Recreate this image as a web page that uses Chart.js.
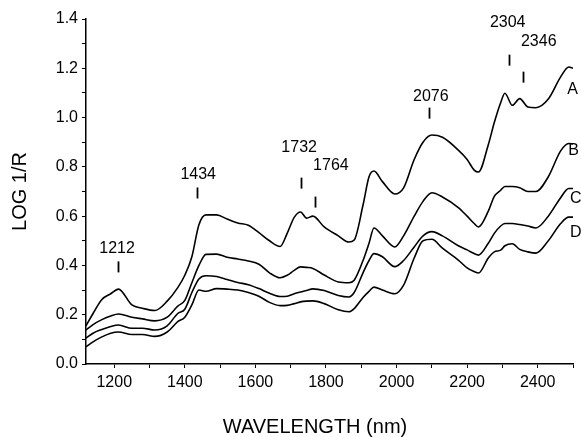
<!DOCTYPE html>
<html>
<head>
<meta charset="utf-8">
<script src="https://cdn.jsdelivr.net/npm/chart.js@4.4.1/dist/chart.umd.min.js"></script>
<style>
    html, body { margin: 0; padding: 0; background: #fff; }
    #spectraChart { display: block; }
</style>
</head>
<body>
<canvas id="spectraChart" width="581" height="437"></canvas>
<script>

const wavelengths = [
    1120, 1140, 1165, 1190, 1212, 1250, 1280, 1315, 1350, 1380,
    1400, 1420, 1440, 1460, 1490, 1520, 1550, 1580, 1610, 1640,
    1670, 1690, 1710, 1728, 1745, 1763, 1795, 1835, 1865, 1880,
    1905, 1922, 1936, 1960, 1995, 2020, 2050, 2075, 2100, 2130,
    2175, 2200, 2220, 2232, 2260, 2277, 2295, 2307, 2328, 2349,
    2372, 2395, 2430, 2465, 2488, 2500
];

const spectrumA = [
    0.155, 0.205, 0.262, 0.285, 0.304, 0.240, 0.226, 0.217, 0.255, 0.310,
    0.360, 0.435, 0.565, 0.605, 0.605, 0.588, 0.572, 0.563, 0.533, 0.500,
    0.477, 0.530, 0.595, 0.617, 0.592, 0.600, 0.556, 0.520, 0.495, 0.503,
    0.645, 0.760, 0.783, 0.740, 0.690, 0.715, 0.830, 0.900, 0.929, 0.920,
    0.868, 0.830, 0.787, 0.779, 0.890, 0.980, 1.060, 1.099, 1.050, 1.077,
    1.043, 1.040, 1.075, 1.165, 1.205, 1.200
];

const spectrumB = [
    0.138, 0.160, 0.180, 0.195, 0.203, 0.190, 0.183, 0.175, 0.190, 0.235,
    0.258, 0.330, 0.400, 0.445, 0.446, 0.433, 0.426, 0.418, 0.405, 0.370,
    0.350, 0.360, 0.380, 0.394, 0.392, 0.388, 0.361, 0.333, 0.330, 0.340,
    0.420, 0.490, 0.552, 0.520, 0.475, 0.520, 0.600, 0.660, 0.695, 0.678,
    0.635, 0.600, 0.570, 0.556, 0.620, 0.680, 0.705, 0.720, 0.720, 0.715,
    0.700, 0.700, 0.760, 0.865, 0.895, 0.893
];

const spectrumC = [
    0.105, 0.125, 0.140, 0.152, 0.158, 0.145, 0.145, 0.138, 0.155, 0.205,
    0.222, 0.290, 0.345, 0.358, 0.355, 0.343, 0.331, 0.322, 0.306, 0.287,
    0.274, 0.275, 0.285, 0.292, 0.298, 0.305, 0.298, 0.278, 0.272, 0.290,
    0.370, 0.420, 0.448, 0.435, 0.395, 0.420, 0.475, 0.520, 0.537, 0.520,
    0.480, 0.463, 0.448, 0.442, 0.490, 0.530, 0.560, 0.570, 0.570, 0.566,
    0.560, 0.552, 0.600, 0.675, 0.712, 0.712
];

const spectrumD = [
    0.070, 0.090, 0.110, 0.125, 0.130, 0.120, 0.120, 0.112, 0.130, 0.172,
    0.190, 0.240, 0.300, 0.295, 0.306, 0.304, 0.300, 0.290, 0.275, 0.250,
    0.237, 0.238, 0.245, 0.252, 0.255, 0.256, 0.245, 0.220, 0.212, 0.225,
    0.270, 0.295, 0.312, 0.300, 0.285, 0.320, 0.430, 0.500, 0.506, 0.470,
    0.422, 0.390, 0.375, 0.369, 0.430, 0.455, 0.462, 0.480, 0.488, 0.465,
    0.455, 0.450, 0.500, 0.570, 0.596, 0.596
];

const seriesNames = ["A", "B", "C", "D"];

// peak labels: where the text sits and where its little marker sits (data units)
const peakLabels = ["1212", "1434", "1732", "1764", "2076", "2304", "2346"];
const peakTextNm = [1208, 1438, 1724, 1814, 2097, 2315, 2403];
const peakTextLevel = [0.47, 0.767, 0.88, 0.807, 1.087, 1.387, 1.31];
const peakMarkNm = [1211, 1435, 1729, 1769, 2092, 2318, 2357];
const peakMarkLevel = [0.394, 0.694, 0.734, 0.657, 1.018, 1.233, 1.164];

// where the A..D letters sit next to the curve ends
const letterNm = [2499, 2502, 2508, 2508];
const letterLevel = [1.112, 0.868, 0.673, 0.535];

const FONT = "'Liberation Sans', Arial, Helvetica, sans-serif";

Chart.defaults.font.family = FONT;
Chart.defaults.color = "#000";

const annotationPlugin = {

    id: "peakAnnotations",

    afterDatasetsDraw(chart) {

        const { ctx, scales: { x, y } } = chart;

        ctx.save();
        ctx.fillStyle = "#000";
        ctx.strokeStyle = "#000";
        ctx.font = "16px " + FONT;
        ctx.textAlign = "center";
        ctx.textBaseline = "middle";

        peakLabels.forEach((label, i) => {

            ctx.fillText(label, x.getPixelForValue(peakTextNm[i]), y.getPixelForValue(peakTextLevel[i]));

            const mx = Math.round(x.getPixelForValue(peakMarkNm[i])) + 0.5;
            const my = y.getPixelForValue(peakMarkLevel[i]);

            ctx.lineWidth = 1.8;
            ctx.beginPath();
            ctx.moveTo(mx, my - 5.5);
            ctx.lineTo(mx, my + 5.5);
            ctx.stroke();

        });

        seriesNames.forEach((name, i) => {
            ctx.fillText(name, x.getPixelForValue(letterNm[i]), y.getPixelForValue(letterLevel[i]));
        });

        // x axis title, sits a bit left of the plot centre in the original
        ctx.font = "20px " + FONT;
        ctx.fillText("WAVELENGTH (nm)", 315, 427);

        ctx.restore();

    }

};

document.addEventListener("DOMContentLoaded", () => {

    const ctx = document.getElementById("spectraChart");

    if (!ctx) return;

    const makeSet = (name, values) => ({
        label: name,
        data: values,
        borderColor: "#000",
        backgroundColor: "#000",
        borderWidth: 1.6,
        pointRadius: 0,
        fill: false,
        cubicInterpolationMode: "monotone"
    });

    new Chart(ctx, {

        type: "line",

        data: {

            labels: wavelengths,

            datasets: [
                makeSet("A", spectrumA),
                makeSet("B", spectrumB),
                makeSet("C", spectrumC),
                makeSet("D", spectrumD)
            ]

        },

        options: {

            responsive: false,

            animation: false,

            layout: {
                padding: { top: 19, right: 8, bottom: 0, left: 0 }
            },

            plugins: {
                legend: { display: false },
                tooltip: { enabled: false }
            },

            scales: {

                x: {
                    type: "linear",
                    min: 1120,
                    max: 2500,
                    afterFit: (scale) => { scale.height = 73; },
                    border: { color: "#000", width: 1.5 },
                    grid: {
                        drawOnChartArea: false,
                        drawTicks: true,
                        tickLength: 4,
                        color: "#000"
                    },
                    ticks: {
                        stepSize: 100,
                        includeBounds: false,
                        autoSkip: false,
                        maxRotation: 0,
                        padding: 5,
                        font: { size: 16 },
                        callback: (v) => (v % 200 === 0 ? String(v) : "")
                    }
                },

                y: {
                    min: 0,
                    max: 1.4,
                    afterFit: (scale) => { scale.width = 86; },
                    border: { color: "#000", width: 1.5 },
                    grid: {
                        drawOnChartArea: false,
                        drawTicks: true,
                        tickLength: 4,
                        color: "#000"
                    },
                    ticks: {
                        stepSize: 0.1,
                        autoSkip: false,
                        padding: 4,
                        font: { size: 16 },
                        callback: (v) => (Math.round(v * 10) % 2 === 0 ? v.toFixed(1) : "")
                    },
                    title: {
                        display: true,
                        text: "LOG 1/R",
                        font: { size: 20, lineHeight: 1 },
                        padding: { top: 10, bottom: 0 }
                    }
                }

            }

        },

        plugins: [annotationPlugin]

    });

});

</script>
</body>
</html>
